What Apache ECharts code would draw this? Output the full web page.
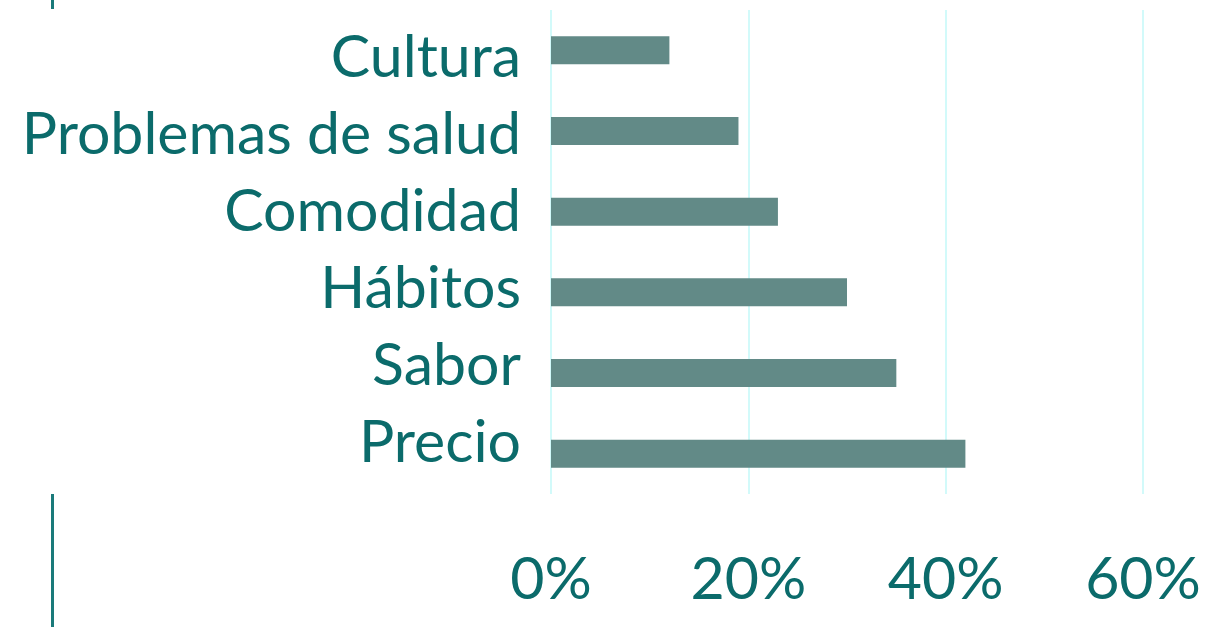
<!DOCTYPE html>
<html>
<head>
<meta charset="utf-8">
<script src="https://cdn.jsdelivr.net/npm/echarts@6/dist/echarts.min.js"></script>
<style>
	html, body { margin: 0; padding: 0; background: #fff; }
	#chart { width: 1228px; height: 627px; }
</style>
</head>
<body>
<div id="chart"></div>
<script>
// categories, bottom to top
const categories = ['Precio', 'Sabor', 'Hábitos', 'Comodidad', 'Problemas de salud', 'Cultura'];
// share of answers, in percent
const values = [42, 35, 30, 23, 19, 12];
const ticks = [0, 20, 40, 60];

const textColor = '#0b6b6b';
const fontFamily = 'Lato';

let myChart = echarts.init(document.getElementById('chart'));
myChart.setOption({
	animation: false,
	// grid 0 holds the bars, grid 1 only carries the category labels
	// (in the original they sit a little tighter than the bars)
	grid: [
		{ left: 551, right: 85, top: 10, bottom: 133 },
		{ left: 551, right: 85, top: 20, bottom: 146 },
	],
	xAxis: [
		{
			type: 'value',
			min: ticks[0],
			max: ticks[ticks.length - 1],
			interval: ticks[1] - ticks[0],
			axisLine: { show: false },
			axisTick: { show: false },
			splitLine: {
				show: true,
				lineStyle: { color: '#d2fafa', width: 2 },
			},
			axisLabel: {
				formatter: '{value}%',
				color: textColor,
				fontFamily: fontFamily,
				fontSize: 59,
				margin: 56,
			},
		},
		{ type: 'value', gridIndex: 1, show: false },
	],
	yAxis: [
		{
			type: 'category',
			data: categories,
			axisLine: { show: false },
			axisTick: { show: false },
			axisLabel: { show: false },
		},
		{
			type: 'category',
			gridIndex: 1,
			data: categories,
			axisLine: { show: false },
			axisTick: { show: false },
			splitLine: { show: false },
			axisLabel: {
				color: textColor,
				fontFamily: fontFamily,
				fontSize: 59,
				margin: 30,
			},
		},
	],
	series: [
		{
			type: 'bar',
			data: values,
			barWidth: 28,
			itemStyle: { color: '#628a87' },
		},
	],
	// decorative slide rules to the left
	graphic: [
		{ type: 'rect', left: 51, top: 0, shape: { width: 3, height: 9 }, style: { fill: '#1a7a7a' } },
		{ type: 'rect', left: 51, top: 494, shape: { width: 3, height: 133 }, style: { fill: '#1a7a7a' } },
	],
});
</script>
</body>
</html>
